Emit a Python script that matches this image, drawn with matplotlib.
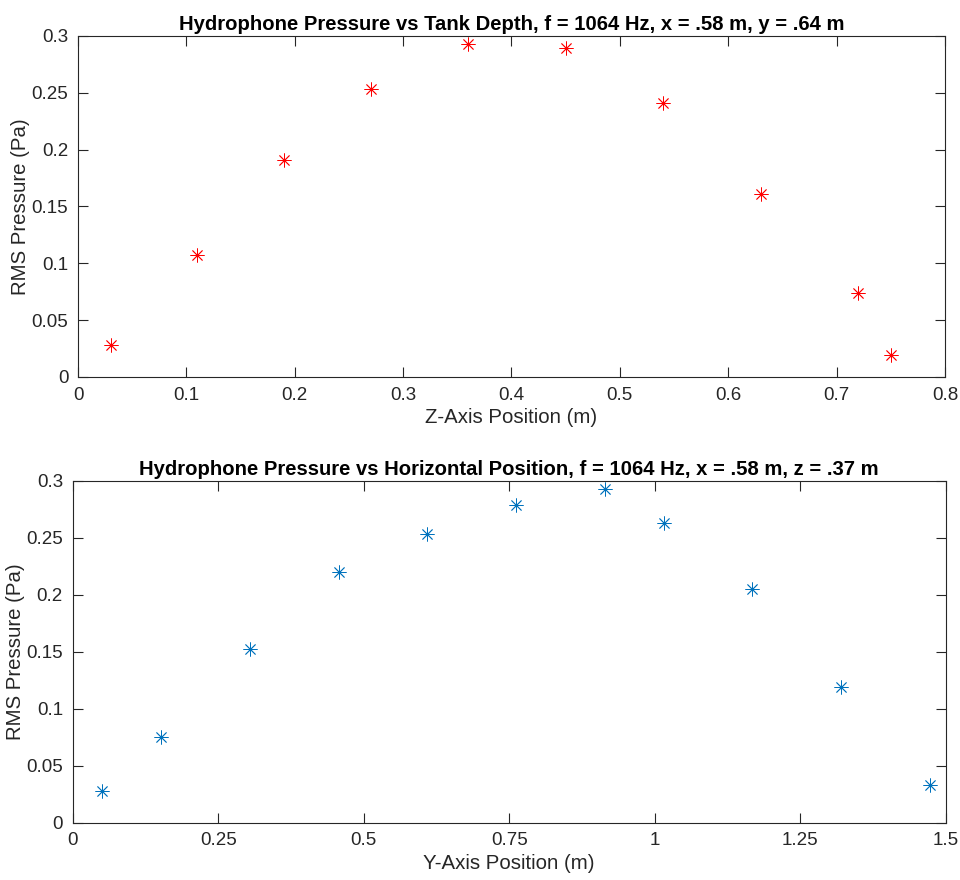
import matplotlib
matplotlib.use("Agg")
import matplotlib.pyplot as plt
from matplotlib.ticker import FuncFormatter

# depth scan (top plot)
z_pos = [0.03, 0.11, 0.19, 0.27, 0.36, 0.45, 0.54, 0.63, 0.72, 0.75]
p_depth = [0.028, 0.107, 0.191, 0.253, 0.293, 0.289, 0.241, 0.161, 0.074, 0.019]

# horizontal scan (bottom plot)
y_pos = [0.0508, 0.1524, 0.3048, 0.4572, 0.6096, 0.762, 0.9144, 1.016, 1.168, 1.32, 1.473]
p_horiz = [0.028, 0.075, 0.152, 0.220, 0.253, 0.279, 0.293, 0.263, 0.205, 0.119, 0.033]

z_ticks = [0, 0.1, 0.2, 0.3, 0.4, 0.5, 0.6, 0.7, 0.8]
y_ticks = [0, 0.25, 0.5, 0.75, 1, 1.25, 1.5]
p_ticks = [0, 0.05, 0.1, 0.15, 0.2, 0.25, 0.3]

plt.rcParams['font.family'] = ['Liberation Sans', 'DejaVu Sans']
dark = '#262626'
fmt = FuncFormatter(lambda v, pos: '%g' % round(v, 4))


def style_axes(ax, xticks, xlim):
    ax.set_xlim(*xlim)
    ax.set_ylim(0, 0.3)
    ax.set_xticks(xticks)
    ax.set_yticks(p_ticks)
    ax.xaxis.set_major_formatter(fmt)
    ax.yaxis.set_major_formatter(fmt)
    ax.tick_params(direction='in', length=7, width=0.8, top=True, right=True,
                   labelsize=13.5, colors=dark, labelcolor=dark, pad=7)
    for s in ax.spines.values():
        s.set_color(dark)
        s.set_linewidth(0.8)


fig = plt.figure(figsize=(9.6, 8.8), dpi=100)
ax1 = fig.add_axes([0.08125, 0.5716, 0.9031, 0.3875])
ax2 = fig.add_axes([0.0757, 0.0651, 0.9094, 0.3886])

ax1.plot(z_pos, p_depth, linestyle='none', marker=(8, 2, 0), markersize=10,
         color='#FF0000', markeredgewidth=0.6)
style_axes(ax1, z_ticks, (0, 0.8))
ax1.set_title('Hydrophone Pressure vs Tank Depth, f = 1064 Hz, x = .58 m, y = .64 m',
              fontsize=14.6, fontweight='bold', color='black', pad=4)
ax1.set_xlabel('Z-Axis Position (m)', fontsize=14.7, color=dark, labelpad=3)
ax1.set_ylabel('RMS Pressure (Pa)', fontsize=14.7, color=dark, labelpad=1)

ax2.plot(y_pos, p_horiz, linestyle='none', marker=(8, 2, 0), markersize=10,
         color='#0072BD', markeredgewidth=0.6)
style_axes(ax2, y_ticks, (0, 1.5))
ax2.set_title('Hydrophone Pressure vs Horizontal Position, f = 1064 Hz, x = .58 m, z = .37 m',
              fontsize=14.6, fontweight='bold', color='black', pad=4)
ax2.set_xlabel('Y-Axis Position (m)', fontsize=14.7, color=dark, labelpad=3)
ax2.set_ylabel('RMS Pressure (Pa)', fontsize=14.7, color=dark, labelpad=1)

fig.savefig('out.png', dpi=100, facecolor='white')
